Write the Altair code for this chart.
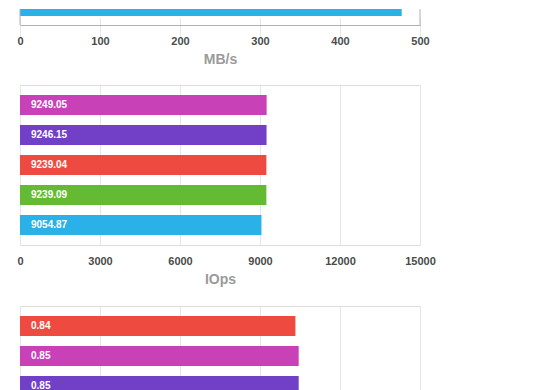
import altair as alt
import pandas as pd

# ---- data ----
series_names = ["A", "B", "C", "D", "E"]
series_colors = ["#29b1e8", "#64bb33", "#ef4a40", "#7140c6", "#c941b7"]

top_series = ["A"]
top_values = [477.13]
top_labels = ["477.13"]

mid_series = ["E", "D", "C", "B", "A"]
mid_values = [9249.05, 9246.15, 9239.04, 9239.09, 9054.87]
mid_labels = ["9249.05", "9246.15", "9239.04", "9239.09", "9054.87"]

bot_series = ["C", "E", "D"]
bot_values = [0.84, 0.85, 0.85]
bot_labels = ["0.84", "0.85", "0.85"]

top_ticks = [0, 100, 200, 300, 400, 500]
mid_ticks = [0, 3000, 6000, 9000, 12000, 15000]
bot_max = 1.22
bot_ticks = [round(bot_max * i / 5, 4) for i in range(6)]

FONT = "Liberation Sans"
FRAME = "#b0b0b0"
GRID = "#e6e6e6"

color = alt.Color("series:N", scale=alt.Scale(domain=series_names, range=series_colors), legend=None)


def make_axis(title, ticks, domain=False, fmt="d"):
    kw = dict(
        values=ticks, title=title, grid=True, gridColor=GRID, ticks=False,
        labelPadding=10, labelFont=FONT, labelFontSize=11, labelFontWeight="bold",
        labelColor="#4a4a4a", titleFont=FONT, titleFontSize=14, titleFontWeight="bold",
        titleColor="#9a9a9a", titlePadding=6, labelFlush=False, format=fmt,
        domain=domain,
    )
    if domain:
        kw["domainColor"] = FRAME
    return alt.Axis(**kw)


def panel(series, values, labels, xmax, ticks, title, fmt="d", y_scale=None, clip=False, framed=True):
    df = pd.DataFrame({"series": series, "value": values, "label": labels,
                       "row": list(range(len(series)))})
    ax = make_axis(title, ticks, domain=not framed, fmt=fmt)
    xs = alt.Scale(domain=[0, xmax], nice=False)
    ysc = y_scale if y_scale is not None else alt.Scale(paddingInner=1/3, paddingOuter=1/3)
    y = alt.Y("row:O", scale=ysc, axis=None)
    base = alt.Chart(df)
    bars = base.mark_bar(clip=clip).encode(
        x=alt.X("value:Q", scale=xs, axis=ax, stack=None), y=y, color=color
    )
    text = base.mark_text(align="left", baseline="middle", dx=11, font=FONT, fontSize=10,
                          fontWeight="bold", color="white", clip=clip).encode(
        x=alt.datum(0), y=y, text="label:N"
    )
    return bars, text, xs


# top panel (only its lowest bar falls inside the window)
tb, tt, txs = panel(top_series, top_values, top_labels, 500, top_ticks, "MB/s",
                    y_scale=alt.Scale(range=[-13, 7], paddingInner=0, paddingOuter=0),
                    clip=True, framed=False)
frame_df = pd.DataFrame({"edge": [0, 500]})
sides = alt.Chart(frame_df).mark_rule(color=FRAME, strokeWidth=1).encode(
    x=alt.X("edge:Q", scale=txs)
)
top = alt.layer(tb, tt, sides).properties(width=400, height=16, view=alt.ViewBackground(stroke=None))

mb, mt, _ = panel(mid_series, mid_values, mid_labels, 15000, mid_ticks, "IOps")
mid = alt.layer(mb, mt).properties(width=400, height=alt.Step(30))

bb, bt, _ = panel(bot_series, bot_values, bot_labels, bot_max, bot_ticks, "", fmt=".2f")
bot = alt.layer(bb, bt).properties(width=400, height=alt.Step(30))

chart = alt.vconcat(top, mid, bot, spacing=18).resolve_scale(
    x="independent", y="independent"
).properties(
    padding={"left": 0, "top": 0, "right": 5, "bottom": 0}
).configure_view(stroke=FRAME, strokeWidth=1).configure(background="white")

chart.save("out.html", embed_options={"renderer": "svg", "actions": False})
